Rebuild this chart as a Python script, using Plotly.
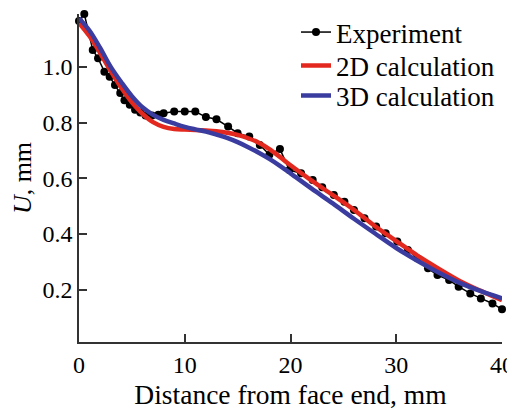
import plotly.graph_objects as go

# Experiment data
exp_x = [0.0, 0.5, 1.3, 1.8, 2.4, 2.9, 3.4, 3.9, 4.3, 4.8, 5.3, 5.8, 6.3, 6.9, 7.5, 8.0,
         9.0, 10.0, 11.0, 12.0, 13.0, 14.1, 15.0, 16.1, 17.1, 18.0, 19.0, 19.9, 21.0,
         22.1, 23.0, 24.1, 25.1, 26.0, 27.0, 28.1, 29.0, 30.1, 31.1, 32.0, 33.0, 33.9,
         35.0, 35.9, 37.0, 38.0, 39.1, 40.0]
exp_y = [1.165, 1.19, 1.061, 1.031, 0.983, 0.965, 0.935, 0.906, 0.88, 0.864, 0.846, 0.836,
         0.826, 0.826, 0.828, 0.834, 0.84, 0.84, 0.84, 0.82, 0.812, 0.786, 0.762, 0.75,
         0.72, 0.685, 0.705, 0.63, 0.618, 0.594, 0.568, 0.54, 0.516, 0.486, 0.457, 0.427,
         0.403, 0.373, 0.343, 0.313, 0.277, 0.253, 0.235, 0.211, 0.187, 0.169, 0.151, 0.13]

# 2D / 3D calculations
calc_x = [0, 1, 2, 3, 4, 5, 6, 7, 8, 9, 10, 11, 12, 13, 14, 15, 16, 17, 18, 19, 20,
          22, 24, 26, 28, 30, 32, 34, 36, 38, 40]
y2d = [1.158, 1.11, 1.05, 0.985, 0.925, 0.873, 0.832, 0.802, 0.785, 0.777, 0.775, 0.774,
       0.772, 0.769, 0.764, 0.756, 0.744, 0.728, 0.705, 0.677, 0.647, 0.592, 0.54, 0.487,
       0.428, 0.375, 0.323, 0.276, 0.232, 0.196, 0.163]
y3d = [1.175, 1.13, 1.068, 1.0, 0.945, 0.895, 0.855, 0.828, 0.81, 0.797, 0.785, 0.776,
       0.768, 0.757, 0.745, 0.73, 0.712, 0.692, 0.67, 0.645, 0.618, 0.563, 0.51, 0.455,
       0.402, 0.35, 0.304, 0.262, 0.225, 0.195, 0.169]

x_ticks = [0, 10, 20, 30, 40]
y_ticks = [0.2, 0.4, 0.6, 0.8, 1.0]

FONT = "Liberation Serif"

fig = go.Figure()
fig.add_trace(go.Scatter(x=exp_x, y=exp_y, mode="lines+markers", name="Experiment",
                         line=dict(color="black", width=1.5),
                         marker=dict(color="black", size=8), cliponaxis=False,
                         legend="legend"))
fig.add_trace(go.Scatter(x=calc_x, y=y2d, mode="lines", name="2D calculation",
                         line=dict(color="#e3291f", width=4.5, shape="spline"),
                         legend="legend2"))
fig.add_trace(go.Scatter(x=calc_x, y=y3d, mode="lines", name="3D calculation",
                         line=dict(color="#3b3c9f", width=4.5, shape="spline"),
                         legend="legend3"))

leg_common = dict(x=0.513, xanchor="left", yanchor="middle",
                  font=dict(family=FONT, size=27, color="black"),
                  bgcolor="rgba(0,0,0,0)", itemwidth=30)

PH = 328.0  # plot height in px (for legend placement)
fig.update_layout(
    width=507, height=404,
    margin=dict(l=71, r=13, t=6, b=70, autoexpand=False),
    paper_bgcolor="white", plot_bgcolor="white",
    font=dict(family=FONT, size=24, color="black"),
    showlegend=True,
    legend=dict(y=1.0 - 18.5 / PH, **leg_common),
    legend2=dict(y=1.0 - 52 / PH, **leg_common),
    legend3=dict(y=1.0 - 82 / PH, **leg_common),
    xaxis=dict(range=[0, 40], tickvals=x_ticks, ticktext=[str(v) for v in x_ticks],
               ticks="inside", ticklen=8, tickwidth=1.5, tickcolor="#333",
               showline=True, linecolor="#333", linewidth=1.5, showgrid=False,
               zeroline=False, tickfont=dict(size=24), automargin=False,
               title=dict(text="Distance from face end, mm", font=dict(size=27.5), standoff=8)),
    yaxis=dict(range=[0.0126, 1.19], tickvals=y_ticks, ticktext=["%.1f" % v for v in y_ticks],
               ticks="inside", ticklen=8, tickwidth=1.5, tickcolor="#333",
               showline=True, linecolor="#333", linewidth=1.5, showgrid=False,
               zeroline=False, tickfont=dict(size=24), automargin=False,
               title=dict(text="<i>U</i>, mm", font=dict(size=26), standoff=4)),
)

fig.write_html("out.html")
